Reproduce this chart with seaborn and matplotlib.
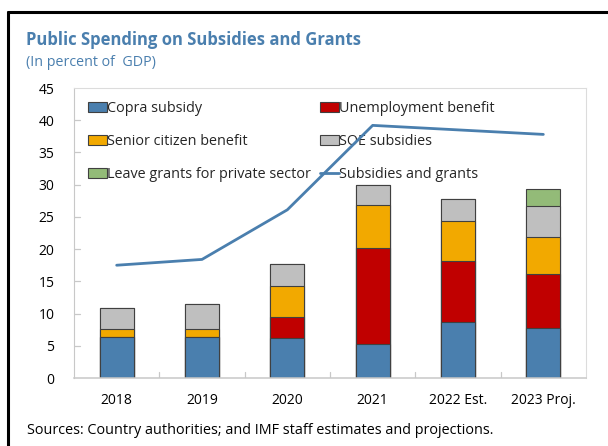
import matplotlib
matplotlib.use("Agg")
import matplotlib.pyplot as plt
from matplotlib.patches import Patch
from matplotlib.lines import Line2D
import numpy as np
import seaborn as sns

# Categories and series (percent of GDP)
years = ["2018", "2019", "2020", "2021", "2022 Est.", "2023 Proj."]
copra_subsidy = [6.4, 6.3, 6.2, 5.3, 8.7, 7.8]
unemployment_benefit = [0.0, 0.0, 3.3, 14.9, 9.4, 8.4]
senior_citizen_benefit = [1.2, 1.3, 4.8, 6.7, 6.2, 5.7]
soe_subsidies = [3.3, 3.9, 3.4, 3.05, 3.5, 4.85]
leave_grants = [0.0, 0.0, 0.0, 0.0, 0.0, 2.65]
subsidies_and_grants = [17.5, 18.4, 26.1, 39.2, 38.5, 37.8]
y_ticks = [0, 5, 10, 15, 20, 25, 30, 35, 40, 45]

series = [
    ("Copra subsidy", copra_subsidy, "#4a7fae"),
    ("Unemployment benefit", unemployment_benefit, "#c00000"),
    ("Senior citizen benefit", senior_citizen_benefit, "#f2a900"),
    ("SOE subsidies", soe_subsidies, "#bfbfbf"),
    ("Leave grants for private sector", leave_grants, "#93bb78"),
]
line_color = "#4a7fae"
title_color = "#4a7fae"
edge = "#404040"
axis_grey = "#c8c8c8"

sns.set_style("white")
plt.rcParams["font.family"] = ["Open Sans", "DejaVu Sans"]

fig = plt.figure(figsize=(6.08, 4.46), dpi=100)
ax = fig.add_axes([74 / 608, 1 - 378 / 446, 512 / 608, 290 / 446])

# Stacked bars: draw cumulative totals from the top layer down
cum = np.cumsum([np.array(s[1]) for s in series], axis=0)
for i in range(len(series) - 1, -1, -1):
    sns.barplot(x=years, y=cum[i], color=series[i][2], width=0.4,
                edgecolor=edge, linewidth=0.8, saturation=1, ax=ax, zorder=2)

sns.lineplot(x=years, y=subsidies_and_grants, sort=False, color=line_color,
             linewidth=2.0, ax=ax, zorder=10)

ax.set_xlim(-0.5, 5.5)
ax.set_ylim(0, 45)
ax.set_yticks(y_ticks)
ax.set_xticks(np.arange(len(years)))
ax.set_xticklabels(years)
ax.set_xlabel("")
ax.set_ylabel("")
ax.tick_params(axis="both", length=0, labelsize=10, colors="#000000")
ax.tick_params(axis="x", pad=11)
ax.tick_params(axis="y", pad=14)

for sp in ax.spines.values():
    sp.set_color("#dcdcdc")
    sp.set_linewidth(0.8)
ax.spines["bottom"].set_color(axis_grey)
ax.spines["bottom"].set_linewidth(1.1)
ax.spines["left"].set_color(axis_grey)

# Tick marks pointing into the plot: between categories and at each y step
for b in np.arange(0.5, 5.0, 1.0):
    ax.plot([b, b], [0, 0.9], color=axis_grey, linewidth=0.9, zorder=3)
for t in y_ticks[1:-1]:
    ax.plot([-0.5, -0.5 + 0.07], [t, t], color=axis_grey, linewidth=0.9,
            zorder=3)

handles = [
    Patch(facecolor=series[0][2], edgecolor=edge, linewidth=0.8, label=series[0][0]),
    Patch(facecolor=series[2][2], edgecolor=edge, linewidth=0.8, label=series[2][0]),
    Patch(facecolor=series[4][2], edgecolor=edge, linewidth=0.8, label=series[4][0]),
    Patch(facecolor=series[1][2], edgecolor=edge, linewidth=0.8, label=series[1][0]),
    Patch(facecolor=series[3][2], edgecolor=edge, linewidth=0.8, label=series[3][0]),
    Line2D([0], [0], color=line_color, linewidth=2.0, label="Subsidies and grants"),
]
leg = ax.legend(handles=handles, ncol=2, loc="upper left",
                bbox_to_anchor=(0.027, 0.955), frameon=False, fontsize=10.4,
                handlelength=1.35, handleheight=0.7, handletextpad=0.0,
                labelspacing=1.25, columnspacing=0.6, borderpad=0,
                borderaxespad=0)
leg.set_zorder(5)

fig.text(26 / 608, 1 - 40 / 446, "Public Spending on Subsidies and Grants",
         fontsize=12, fontweight="bold", color=title_color, va="center")
fig.text(26 / 608, 1 - 62 / 446, "(In percent of  GDP)", fontsize=10.3,
         color=title_color, va="center")
fig.text(27 / 608, 1 - 430 / 446,
         "Sources: Country authorities; and IMF staff estimates and projections.",
         fontsize=10.4, color="#000000", va="center")

# Frame lines on the top and left edges
fig.add_artist(Line2D([8 / 608, 1], [1 - 12 / 446, 1 - 12 / 446],
                      color="black", linewidth=2.2, transform=fig.transFigure))
fig.add_artist(Line2D([8 / 608, 8 / 608], [0, 1 - 12 / 446],
                      color="black", linewidth=2.2, transform=fig.transFigure))

fig.savefig("out.png", dpi=100)
